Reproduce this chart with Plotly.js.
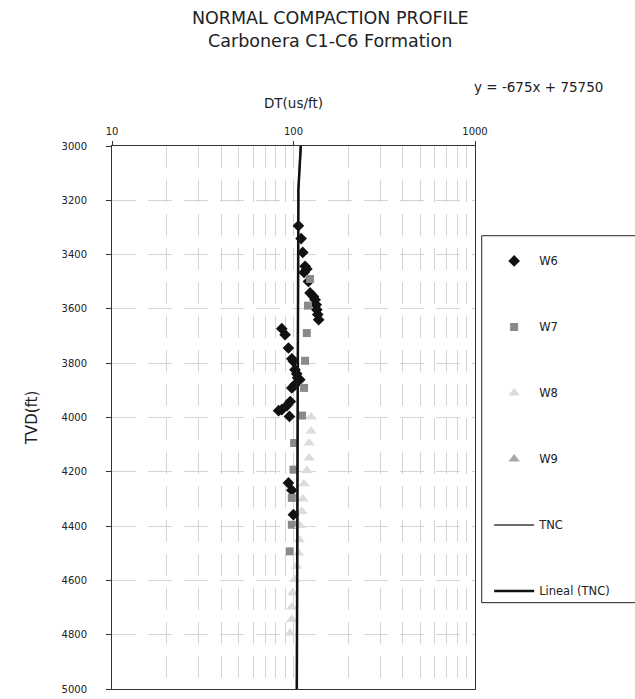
<!DOCTYPE html>
<html>
<head>
<meta charset="utf-8">
<script src="https://cdn.plot.ly/plotly-3.0.1.min.js"></script>
<style>html,body{margin:0;padding:0;background:#fff;}#chart{width:635px;height:699px;}</style>
</head>
<body>
<div id="chart"></div>
<script>
// ---- data ----
const W6_dt  = [106.4,110.1,112.5,115.8,118.4,114.3,120.8,123.4,128.7,131.6,133.3,134.4,136,137.6,86.2,89.9,93.8,97.9,99.9,101.9,104.1,105.4,108.3,101.9,97.9,96,92,86.2,82.8,95,93.8,97.9,99.9];
const W6_tvd = [3294,3341,3392,3443,3453,3466,3499,3541,3554,3566,3585,3603,3621,3640,3673,3695,3744,3784,3793,3824,3839,3854,3861,3879,3891,3941,3956,3971,3975,3996,4241,4268,4358];

const W7_dt  = [123.4,120.2,118.4,115.8,114.3,111.5,100.8,100,97.9,97.9,95.3];
const W7_tvd = [3490,3588,3689,3791,3891,3993,4094,4192,4296,4395,4493];

const W8_dt  = [125,125,122,122,118.4,114.3,112.5,111.2,108.3,107.5,106.3,104,101.3,98.8,97.9,97.9,95.7];
const W8_tvd = [3998,4051,4094,4149,4195,4244,4300,4346,4398,4450,4499,4548,4597,4646,4698,4744,4794];

// W9 is listed in the legend but no W9 point can be seen in the plot
const W9_dt  = [null];
const W9_tvd = [null];

const TNC_dt  = [109.7,106.4,104.3];
const TNC_tvd = [3000,3160,5000];

const LIN_dt  = [109.7,106.4,104.3];
const LIN_tvd = [3000,3160,5000];

const xTickVals = [10,100,1000];
const xTickText = ['10','100','1000'];
const xMinorVals = [20,30,40,50,60,70,80,90,200,300,400,500,600,700,800,900];
const titleText = 'NORMAL COMPACTION PROFILE<br>Carbonera C1-C6 Formation';
const eqText = 'y = -675x + 75750';

const FONT = 'DejaVu Sans';
const grid = '#d4d4d4';

const traces = [
  {x: W6_dt, y: W6_tvd, name: 'W6', type: 'scatter', mode: 'markers', legendgroup: 'a',
   marker: {symbol: 'diamond', size: 9, color: '#111'}},
  {x: W7_dt, y: W7_tvd, name: 'W7', type: 'scatter', mode: 'markers', legendgroup: 'b',
   marker: {symbol: 'square', size: 8, color: '#8a8a8a'}},
  {x: W8_dt, y: W8_tvd, name: 'W8', type: 'scatter', mode: 'markers', legendgroup: 'c',
   marker: {symbol: 'triangle-up', size: 10, color: '#dcdcdc'}},
  {x: W9_dt, y: W9_tvd, name: 'W9', type: 'scatter', mode: 'markers', legendgroup: 'd',
   marker: {symbol: 'triangle-up', size: 10, color: '#a8a8a8'}},
  {x: TNC_dt, y: TNC_tvd, name: 'TNC', type: 'scatter', mode: 'lines', legendgroup: 'e',
   line: {color: '#6e6e6e', width: 2}},
  {x: LIN_dt, y: LIN_tvd, name: 'Lineal (TNC)', type: 'scatter', mode: 'lines', legendgroup: 'f',
   line: {color: '#111', width: 2.5}}
];

const layout = {
  width: 635, height: 699,
  margin: {l: 112, r: 160, t: 146, b: 10, autoexpand: false},
  paper_bgcolor: '#fff', plot_bgcolor: '#fff',
  font: {family: FONT, color: '#222', size: 11},
  title: {text: titleText, font: {family: FONT, size: 17.5, color: '#222'},
          x: 0.52, xanchor: 'center', y: 0.966, yanchor: 'middle'},
  xaxis: {
    type: 'log', range: [1, 3], side: 'top',
    tickmode: 'array', tickvals: xTickVals, ticktext: xTickText,
    ticks: 'outside', ticklen: 4, tickcolor: '#333',
    tickfont: {size: 10, color: '#222'},
    ticklabelstandoff: 2,
    showline: true, linecolor: '#333', linewidth: 1, mirror: true,
    showgrid: true, gridcolor: grid, griddash: '22px,12px', gridwidth: 1,
    minor: {tickmode: 'array', tickvals: xMinorVals, showgrid: true, gridcolor: grid, griddash: '22px,12px', gridwidth: 1, ticks: ''},
    zeroline: false,
    title: {text: 'DT(us/ft)', font: {family: FONT, size: 13.5, color: '#222'}, standoff: 14}
  },
  yaxis: {
    range: [5000, 3000], dtick: 200, tick0: 3000,
    ticks: 'outside', ticklen: 5, tickcolor: '#333',
    tickfont: {size: 10, color: '#222'},
    ticklabelstandoff: 17,
    showline: true, linecolor: '#333', linewidth: 1, mirror: true,
    showgrid: true, gridcolor: grid, griddash: '24px,12px', gridwidth: 1,
    zeroline: false,
    title: {text: 'TVD(ft)', font: {family: FONT, size: 15, color: '#222'}, standoff: 20}
  },
  showlegend: true,
  legend: {
    x: 1.039, xanchor: 'left', y: 0.815, yanchor: 'top',
    traceorder: 'grouped', tracegroupgap: 47, itemwidth: 40,
    bgcolor: 'rgba(0,0,0,0)', borderwidth: 0,
    font: {family: FONT, size: 11.5, color: '#222'}
  },
  shapes: [
    {type: 'rect', xref: 'paper', yref: 'paper', x0: 1.0185, x1: 1.46, y0: 0.159, y1: 0.8348,
     line: {color: '#222', width: 1}, fillcolor: 'rgba(0,0,0,0)', layer: 'below'}
  ],
  annotations: [
    {text: eqText, xref: 'paper', yref: 'paper', x: 1.175, y: 1.109, xanchor: 'center', yanchor: 'middle',
     showarrow: false, font: {family: FONT, size: 13.5, color: '#222'}}
  ]
};

Plotly.newPlot('chart', traces, layout, {displayModeBar: false, staticPlot: true});
</script>
</body>
</html>
